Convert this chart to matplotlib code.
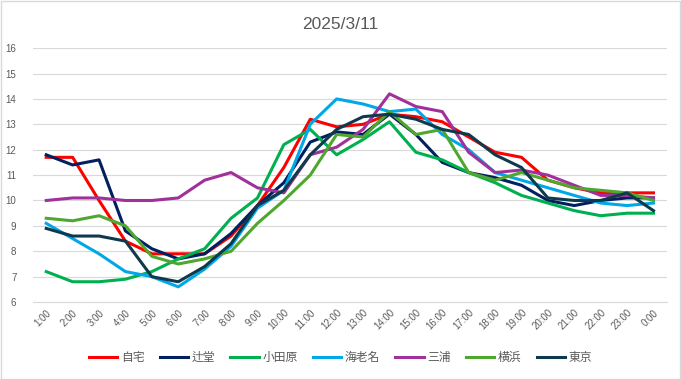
import matplotlib
matplotlib.use('Agg')
import matplotlib.pyplot as plt
from matplotlib.patches import Rectangle

plt.rcParams['font.family'] = ['Liberation Sans', 'Noto Sans CJK JP', 'DejaVu Sans']

hours = ['1:00', '2:00', '3:00', '4:00', '5:00', '6:00', '7:00', '8:00', '9:00', '10:00',
         '11:00', '12:00', '13:00', '14:00', '15:00', '16:00', '17:00', '18:00', '19:00',
         '20:00', '21:00', '22:00', '23:00', '0:00']

jitaku = [11.7, 11.7, 10.0, 8.4, 7.9, 7.9, 7.9, 8.6, 9.8, 11.3, 13.2, 12.9,
          13.0, 13.4, 13.3, 13.1, 12.5, 11.9, 11.7, 10.8, 10.5, 10.3, 10.3, 10.3]
tsujido = [11.8, 11.4, 11.6, 8.8, 8.1, 7.7, 7.9, 8.7, 9.8, 10.7, 12.3, 12.7,
           12.6, 13.4, 12.6, 11.5, 11.1, 10.9, 10.6, 10.0, 9.8, 10.0, 10.1, 10.1]
odawara = [7.2, 6.8, 6.8, 6.9, 7.2, 7.7, 8.1, 9.3, 10.1, 12.2, 12.8, 11.8,
           12.4, 13.1, 11.9, 11.6, 11.1, 10.7, 10.2, 9.9, 9.6, 9.4, 9.5, 9.5]
ebina = [9.1, 8.5, 7.9, 7.2, 7.0, 6.6, 7.3, 8.2, 9.7, 10.4, 13.0, 14.0,
         13.8, 13.5, 13.6, 12.6, 12.0, 11.1, 10.8, 10.5, 10.2, 9.9, 9.8, 9.9]
miura = [10.0, 10.1, 10.1, 10.0, 10.0, 10.1, 10.8, 11.1, 10.5, 10.3, 11.8, 12.1,
         12.8, 14.2, 13.7, 13.5, 11.9, 11.1, 11.2, 11.0, 10.6, 10.2, 10.2, 10.1]
yokohama = [9.3, 9.2, 9.4, 9.0, 7.8, 7.5, 7.7, 8.0, 9.1, 10.0, 11.0, 12.6,
            12.5, 13.5, 12.6, 12.8, 11.1, 10.8, 11.1, 10.8, 10.5, 10.4, 10.3, 10.0]
tokyo = [8.9, 8.6, 8.6, 8.4, 7.0, 6.8, 7.4, 8.3, 9.8, 10.4, 11.8, 12.8,
         13.3, 13.4, 13.2, 12.8, 12.6, 11.8, 11.3, 10.1, 10.0, 10.0, 10.3, 9.6]

names = ['自宅', '辻堂', '小田原', '海老名', '三浦', '横浜', '東京']
colors = ['#FF0000', '#002060', '#00B050', '#00A8E8', '#A0309A', '#4EA72E', '#0F3A4E']
series = [jitaku, tsujido, odawara, ebina, miura, yokohama, tokyo]

fig = plt.figure(figsize=(6.81, 3.79), dpi=100)
ax = fig.add_axes([0.0485, 0.203, 0.9305, 0.670])

x = list(range(len(hours)))
for vals, name, c in zip(series, names, colors):
    ax.plot(x, vals, color=c, lw=2.2, label=name, solid_joinstyle='round')

ax.set_xlim(-0.5, len(hours) - 0.5)
ax.set_ylim(6, 16)
ax.set_yticks(range(6, 17))
ax.set_xticks(x)
ax.set_xticklabels(hours, rotation=45, ha='right', rotation_mode='anchor')
ax.grid(axis='y', color='#D9D9D9', lw=0.8)
ax.set_axisbelow(True)
for s in ['top', 'right', 'left']:
    ax.spines[s].set_visible(False)
ax.spines['bottom'].set_color('#D9D9D9')
ax.tick_params(length=0, colors='#595959', labelsize=7)
ax.tick_params(axis='y', pad=12)
ax.tick_params(axis='x', pad=4)

fig.suptitle('2025/3/11', y=0.955, fontsize=12.5, color='#595959')

fig.legend(loc='center', bbox_to_anchor=(0.5, 0.055), ncol=7, frameon=False,
           fontsize=8.5, handlelength=2.4, columnspacing=1.3, handletextpad=0.3,
           labelcolor='#595959')

fig.patches.append(Rectangle((0.001, 0.001), 0.997, 0.996, transform=fig.transFigure,
                             fill=False, edgecolor='#D9D9D9', lw=1))

fig.savefig('out.png', dpi=100)
